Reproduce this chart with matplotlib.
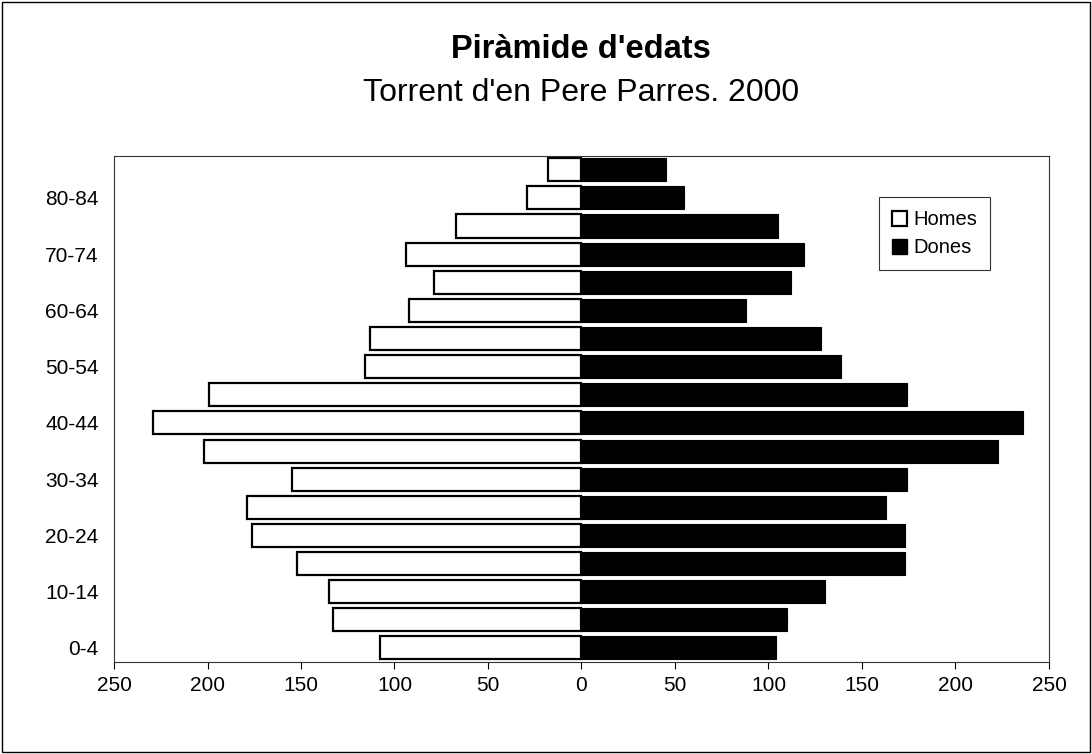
import numpy as np
import matplotlib
matplotlib.use("Agg")
import matplotlib.pyplot as plt
from matplotlib.patches import Rectangle, Patch

plt.rcParams['font.family'] = ['Liberation Sans', 'DejaVu Sans']

# Age groups (bottom to top)
groups = ["0-4", "5-9", "10-14", "15-19", "20-24", "25-29", "30-34", "35-39",
          "40-44", "45-49", "50-54", "55-59", "60-64", "65-69", "70-74",
          "75-79", "80-84", "85+"]
homes = [108, 133, 135, 152, 176, 179, 155, 202, 229, 199, 116, 113, 92, 79, 94, 67, 29, 18]
dones = [104, 110, 130, 173, 173, 163, 174, 223, 236, 174, 139, 128, 88, 112, 119, 105, 55, 45]
xticks = [-250, -200, -150, -100, -50, 0, 50, 100, 150, 200, 250]

fig = plt.figure(figsize=(10.92, 7.54), dpi=100)
fig.patches.append(Rectangle((0.002, 0.002), 0.996, 0.995, transform=fig.transFigure,
                             fill=False, edgecolor='black', linewidth=1.0))
ax = fig.add_axes([0.1044, 0.122, 0.8562, 0.6715])

y = np.arange(len(groups))
h = 0.82
ax.barh(y, -np.array(homes), height=h, color='white', edgecolor='black', linewidth=1.6,
        label='Homes')
ax.barh(y, dones, height=h, color='black', edgecolor='black', linewidth=0.8,
        label='Dones')

ax.set_xlim(-250, 250)
ax.set_ylim(-0.5, len(groups) - 0.5)
ax.set_xticks(xticks)
ax.set_xticklabels([str(abs(t)) for t in xticks], fontsize=15)
ax.set_yticks(y[::2])
ax.set_yticklabels(groups[::2], fontsize=15)
ax.tick_params(axis='x', direction='out', length=5, width=0.8, pad=5)
ax.tick_params(axis='y', length=0, pad=11)
for s in ax.spines.values():
    s.set_linewidth(0.8)
    s.set_color('#333333')

handles = [Patch(facecolor='white', edgecolor='black', linewidth=1.6, label='Homes'),
           Patch(facecolor='black', edgecolor='black', label='Dones')]
leg = ax.legend(handles=handles, loc='upper left', bbox_to_anchor=(0.818, 0.918),
                fontsize=14.5, frameon=True, fancybox=False, handlelength=0.75,
                handleheight=0.75, handletextpad=0.3, borderpad=0.65, labelspacing=0.45,
                borderaxespad=0)
leg.get_frame().set_edgecolor('black')
leg.get_frame().set_linewidth(0.8)

fig.text(0.532, 0.935, "Piràmide d'edats", ha='center', va='center', fontsize=23.5,
         fontweight='bold')
fig.text(0.532, 0.877, "Torrent d'en Pere Parres. 2000", ha='center', va='center',
         fontsize=23)

fig.savefig("out.png", dpi=100)
